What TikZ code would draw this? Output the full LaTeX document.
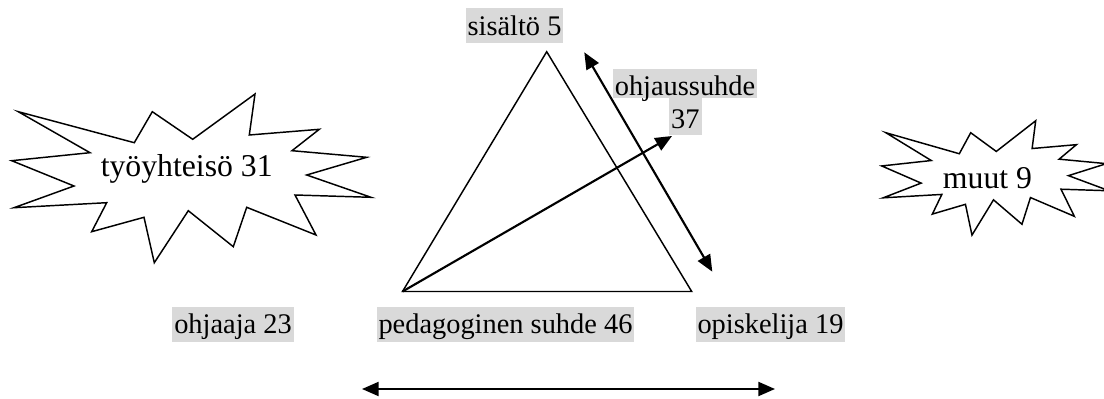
\documentclass[tikz,border=0pt]{standalone}
\usepackage{fontspec}
\setmainfont{Liberation Serif}
\usetikzlibrary{arrows.meta}
\definecolor{hl}{RGB}{217,217,217}
\newcommand\burstpath{(18.3,111.7) -- (134.3,142.7) -- (152.3,111.7) -- (192.7,139.3) -- (255,94) -- (249.3,135) -- (319.3,129.3) -- (292,150.7) -- (366.7,157.3) -- (306.7,175) -- (371,197.3) -- (295,195) -- (316,235) -- (246.7,207.3) -- (233.3,246.7) -- (188.3,210.7) -- (154.3,262.7) -- (144,217.3) -- (91.7,231.7) -- (106.7,202.7) -- (14,207.7) -- (74,186) -- (11.7,160.7) -- (90,152.7) -- cycle}
\begin{document}
\begin{tikzpicture}[x=0.75pt,y=-0.75pt,
  glabel/.style={fill=hl, inner xsep=1.5pt, inner ysep=0pt, text height=20.5pt, text depth=5.7pt, anchor=base, font=\fontsize{21.3}{24}\selectfont},
  startext/.style={anchor=base, inner sep=0pt, font=\fontsize{23.8}{26}\selectfont},
  burstline/.style={line width=1.1pt, line join=miter},
  triline/.style={line width=1.1pt, line join=miter},
  arr/.style={line width=1.6pt, -{Triangle[length=12.5pt,width=10.5pt]}},
  darr/.style={line width=1.6pt, {Triangle[length=12.5pt,width=10.5pt]}-{Triangle[length=12.5pt,width=10.5pt]}}]
\useasboundingbox (0,0) rectangle (1104,399);
\begin{scope}
\clip (0,0) rectangle (1104,399);
% left burst
\draw[burstline] \burstpath;
% right burst (scaled copy)
\begin{scope}[shift={(874.3,57.0)}, xscale=0.633, yscale=0.678]
\draw[burstline] \burstpath;
\end{scope}
\end{scope}
\node[startext] (tyo) at (186.7,177) {työyhteisö 31};
\node[startext] (muut) at (987.5,188.5) {muut 9};
% triangle
\coordinate (A) at (546.7,51.7);
\coordinate (B) at (402.5,291.5);
\coordinate (C) at (691.7,291.5);
\draw[triline] (A) -- (B) -- (C) -- cycle;
% arrows
\coordinate (T) at (672,136);
\draw[arr] (B) -- (T);
\coordinate (D1) at (584.3,52.3);
\coordinate (D2) at (712.3,271.7);
\draw[darr] (D1) -- (D2);
\coordinate (E1) at (362,389);
\coordinate (E2) at (775,389);
\draw[darr] (E1) -- (E2);
% labels
\node[glabel] (sis) at (514.5,35.7) {sisältö 5};
\node[glabel, text height=20pt, text depth=1.7pt] (ohj) at (685,96) {ohjaussuhde};
\node[glabel, text height=22.5pt, text depth=5pt] (n37) at (685.3,128.3) {37};
\node[glabel] (ohjaaja) at (233,334) {ohjaaja 23};
\node[glabel] (ped) at (505.5,334) {pedagoginen suhde 46};
\node[glabel] (opis) at (770.5,334) {opiskelija 19};
\end{tikzpicture}
\end{document}
